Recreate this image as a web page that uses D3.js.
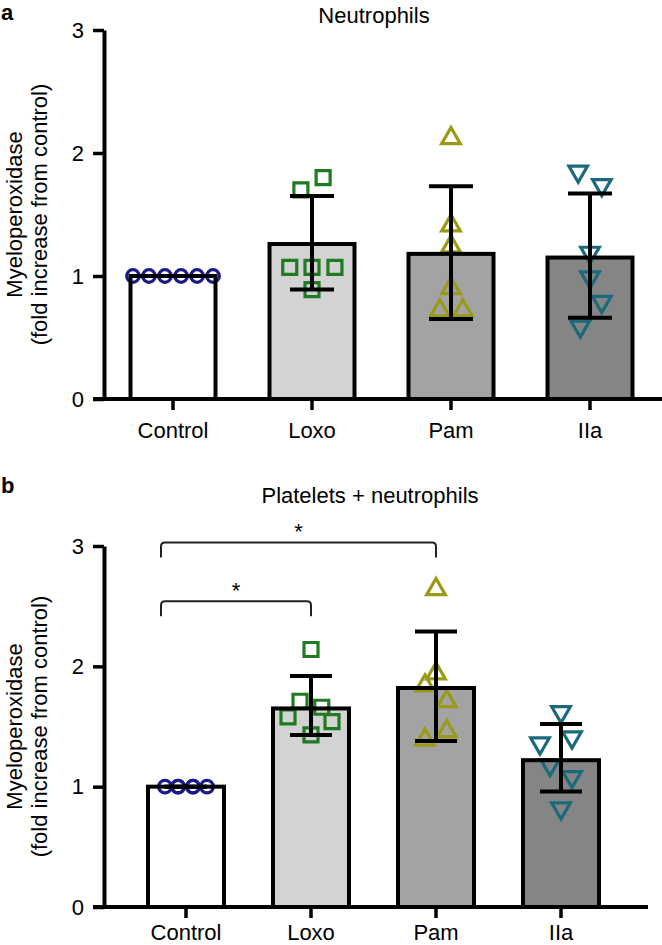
<!DOCTYPE html>
<html>
<head>
<meta charset="utf-8">
<script src="https://cdn.jsdelivr.net/npm/d3@7"></script>
<style>
  body { margin: 0; background: #fff; }
  svg { display: block; font-family: "Liberation Sans", Arial, sans-serif; }
</style>
</head>
<body>
<script>
const categories = ['Control', 'Loxo', 'Pam', 'IIa'];
const yTicks = [0, 1, 2, 3];

// panel a - neutrophils
const neutMean = [1.0, 1.26, 1.18, 1.15];
const neutLow = [1.0, 0.89, 0.65, 0.66];
const neutHigh = [1.0, 1.65, 1.73, 1.67];
const neutControl = [1, 1, 1, 1, 1, 1];
const neutLoxo = [1.70, 1.80, 1.07, 1.07, 1.07, 0.89];
const neutPam = [2.12, 1.41, 1.24, 0.90, 0.72, 0.72];
const neutIIa = [1.85, 1.74, 1.19, 0.99, 0.79, 0.59];

// panel b - platelets + neutrophils
const plateMean = [1.0, 1.65, 1.82, 1.22];
const plateLow = [1.0, 1.43, 1.38, 0.96];
const plateHigh = [1.0, 1.92, 2.29, 1.52];
const plateControl = [1, 1, 1, 1, 1, 1];
const plateLoxo = [2.14, 1.71, 1.66, 1.58, 1.54, 1.43];
const platePam = [2.64, 1.94, 1.84, 1.71, 1.46, 1.39];
const plateIIa = [1.62, 1.41, 1.36, 1.18, 1.08, 0.82];
const plateSig = [['Control', 'Loxo', 2.54, '*'], ['Control', 'Pam', 3.03, '*']];

// horizontal scatter of the points, in band steps (layout, not data)
const neutJitter = [
  [-0.288, -0.173, -0.058, 0.058, 0.173, 0.288],
  [-0.08, 0.08, -0.16, 0, 0.165, 0],
  [0, 0, 0, 0, -0.08, 0.085],
  [-0.085, 0.085, 0, 0, 0.085, -0.07],
];
const plateJitter = [
  [-0.168, -0.064, -0.064, 0.056, 0.056, 0.168],
  [0, -0.088, 0.086, -0.184, 0.168, 0],
  [0, 0, -0.088, 0.086, 0.086, -0.088],
  [0, 0.088, -0.168, -0.088, 0.088, 0],
];

const barFill = ['#ffffff', '#d3d3d3', '#a3a3a6', '#858585'];
const pointColor = ['#1a1a8a', '#1f7a22', '#9a9a14', '#1a6a7c'];
const symbols = [d3.symbolCircle, d3.symbolSquare, d3.symbolTriangle, d3.symbolTriangle];
const symbolSize = [125, 196, 150, 150];
const symbolRotate = [0, 0, 0, 180];

const width = 662;
const height = 945;
const axisX = 104;
const fontSize = 22;

const svg = d3.select('body').append('svg').attr('width', width).attr('height', height);

drawPanel({
  letter: 'a', letterY: 20, title: 'Neutrophils', titleX: 374, titleY: 23,
  y0: 399, y3: 30, step: 139, barW: 85, firstX: 173, axisEnd: 662, capW: 44,
  means: neutMean, low: neutLow, high: neutHigh,
  points: [neutControl, neutLoxo, neutPam, neutIIa], jitter: neutJitter, sig: [],
});

drawPanel({
  letter: 'b', letterY: 493, title: 'Platelets + neutrophils', titleX: 370, titleY: 503,
  y0: 907, y3: 546, step: 125, barW: 76, firstX: 186, axisEnd: 648, capW: 42,
  means: plateMean, low: plateLow, high: plateHigh,
  points: [plateControl, plateLoxo, platePam, plateIIa], jitter: plateJitter, sig: plateSig,
  labelPad: 6,
});

function drawPanel(p) {
  const g = svg.append('g');

  const pi = 1 - p.barW / p.step;
  const po = (p.firstX - axisX - p.barW / 2) / p.step;
  const rangeLen = p.step * (categories.length - pi + 2 * po);
  const x = d3.scaleBand().domain(categories).range([axisX, axisX + rangeLen])
    .paddingInner(pi).paddingOuter(po);
  const cx = c => x(c) + x.bandwidth() / 2;
  const y = d3.scaleLinear().domain([0, 3]).range([p.y0, p.y3]);

  const rows = categories.map((c, i) => ({ c, i, mean: p.means[i], low: p.low[i], high: p.high[i] }));

  g.append('text').attr('x', 1).attr('y', p.letterY)
    .attr('font-size', 22).attr('font-weight', 'bold').text(p.letter);
  g.append('text').attr('x', p.titleX).attr('y', p.titleY)
    .attr('text-anchor', 'middle').attr('font-size', fontSize).text(p.title);

  const midY = (p.y0 + p.y3) / 2;
  const yTitle = g.append('text').attr('text-anchor', 'middle').attr('font-size', fontSize)
    .attr('transform', `translate(0, ${midY}) rotate(-90)`);
  yTitle.append('tspan').attr('x', 0).attr('y', 22).text('Myeloperoxidase');
  yTitle.append('tspan').attr('x', 0).attr('y', 47).text('(fold increase from control)');

  // bar fills
  g.selectAll('.bar').data(rows).enter().append('rect')
    .attr('x', d => x(d.c)).attr('y', d => y(d.mean))
    .attr('width', x.bandwidth()).attr('height', d => p.y0 - y(d.mean))
    .attr('fill', d => barFill[d.i]);

  // points
  rows.forEach(d => {
    g.selectAll(null).data(p.points[d.i]).enter().append('path')
      .attr('d', d3.symbol().type(symbols[d.i]).size(symbolSize[d.i]))
      .attr('transform', (v, j) => `translate(${cx(d.c) + p.jitter[d.i][j] * p.step}, ${y(v)}) rotate(${symbolRotate[d.i]})`)
      .attr('fill', 'none').attr('stroke', pointColor[d.i]).attr('stroke-width', 3.2);
  });

  // bar outlines
  g.selectAll('.outline').data(rows).enter().append('rect')
    .attr('x', d => x(d.c)).attr('y', d => y(d.mean))
    .attr('width', x.bandwidth()).attr('height', d => p.y0 - y(d.mean))
    .attr('fill', 'none').attr('stroke', '#000').attr('stroke-width', 4);

  // error bars
  const err = g.selectAll('.err').data(rows).enter().append('g')
    .attr('stroke', '#000').attr('stroke-width', 4);
  err.append('line').attr('x1', d => cx(d.c)).attr('x2', d => cx(d.c))
    .attr('y1', d => y(d.low)).attr('y2', d => y(d.high));
  err.append('line').attr('x1', d => cx(d.c) - p.capW / 2).attr('x2', d => cx(d.c) + p.capW / 2)
    .attr('y1', d => y(d.high)).attr('y2', d => y(d.high));
  err.append('line').attr('x1', d => cx(d.c) - p.capW / 2).attr('x2', d => cx(d.c) + p.capW / 2)
    .attr('y1', d => y(d.low)).attr('y2', d => y(d.low));

  // significance brackets
  p.sig.forEach(([a, b, level, label]) => {
    const x1 = cx(a) - 25;
    const x2 = cx(b);
    const yb = y(level);
    g.append('path')
      .attr('d', `M${x1},${yb + 15} V${yb + 4} Q${x1},${yb} ${x1 + 4},${yb} H${x2 - 4} Q${x2},${yb} ${x2},${yb + 4} V${yb + 15}`)
      .attr('fill', 'none').attr('stroke', '#222').attr('stroke-width', 2);
    g.append('text').attr('x', (x1 + x2) / 2).attr('y', yb - 3)
      .attr('text-anchor', 'middle').attr('font-size', fontSize).text(label);
  });

  // axes
  const yAxis = g.append('g').attr('transform', `translate(${axisX}, 0)`)
    .call(d3.axisLeft(y).tickValues(yTicks).tickSize(11).tickSizeOuter(0).tickPadding(9).tickFormat(d3.format('d')));
  yAxis.select('.domain').attr('stroke-width', 4);
  yAxis.selectAll('.tick line').attr('stroke-width', 3.5);
  yAxis.selectAll('.tick text').attr('font-size', fontSize).attr('font-family', null).attr('fill', '#000');

  g.append('line').attr('x1', 93).attr('x2', p.axisEnd).attr('y1', p.y0).attr('y2', p.y0)
    .attr('stroke', '#000').attr('stroke-width', 4);
  const xAxis = g.append('g').attr('transform', `translate(0, ${p.y0})`)
    .call(d3.axisBottom(x).tickSize(11).tickPadding(p.labelPad || 12));
  xAxis.select('.domain').remove();
  xAxis.selectAll('.tick line').attr('stroke-width', 3.5);
  xAxis.selectAll('.tick text').attr('font-size', fontSize).attr('font-family', null).attr('fill', '#000');
}
</script>
</body>
</html>
